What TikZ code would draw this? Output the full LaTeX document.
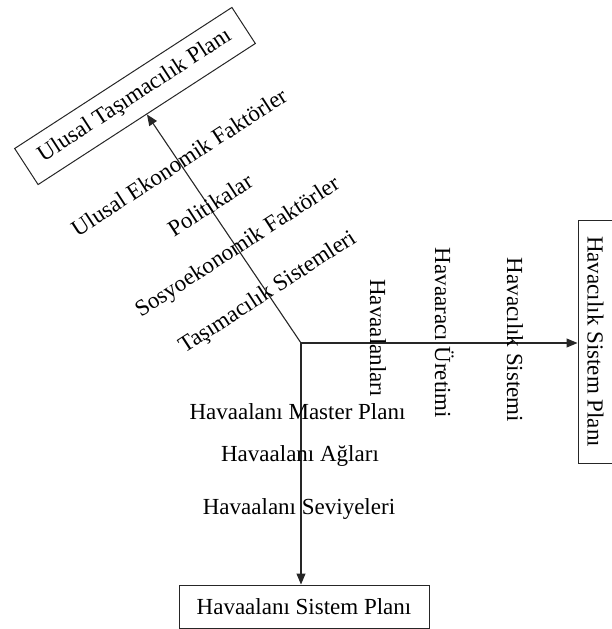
\documentclass[tikz,border=0pt]{standalone}
\usepackage{fontspec}
\setmainfont{Liberation Serif}
\usetikzlibrary{arrows.meta,calc}
\begin{document}
\begin{tikzpicture}[x=1pt,y=-1pt,
  lbl/.style={font=\fontsize{23}{27}\selectfont, inner sep=0pt},
  box/.style={draw=black!85, line width=1pt, font=\fontsize{23}{27}\selectfont, inner sep=0pt},
  arr/.style={draw=black!85, line width=1.1pt, -{Triangle[length=11pt,width=9pt]}}]
\useasboundingbox (0,0) rectangle (612,629);
\coordinate (c) at (301,343);
\node[box, rotate=33, minimum width=259pt, minimum height=43pt] (nat) at (135,96) {Ulusal Taşımacılık Planı};
\node[box, rotate=-90, minimum width=243pt, minimum height=35pt] (avi) at (595.5,341.5) {Havacılık Sistem Planı};
\node[box, minimum width=250pt, minimum height=43pt] (apt) at (304,606.5) {Havaalanı Sistem Planı};
\draw[arr] (c) -- (nat.south);
\draw[arr] (c) -- (c -| avi.south);
\draw[arr] (c) -- (c |- apt.north);
% diagonal labels
\node[lbl, rotate=33] (d1) at (179,162) {Ulusal Ekonomik Faktörler};
\node[lbl, rotate=33] (d2) at (210,205) {Politikalar};
\node[lbl, rotate=33] (d3) at (238,248) {Sosyoekonomik Faktörler};
\node[lbl, rotate=33] (d4) at (268,293) {Taşımacılık Sistemleri};
% vertical labels
\node[lbl, rotate=-90, anchor=base] (v1) at (370,338) {Havaalanları};
\node[lbl, rotate=-90, anchor=base] (v2) at (435,333) {Havaaracı Üretimi};
\node[lbl, rotate=-90, anchor=base] (v3) at (507,340) {Havacılık Sistemi};
% horizontal labels
\node[lbl, anchor=base] (h1) at (297.5,419) {Havaalanı Master Planı};
\node[lbl, anchor=base] (h2) at (300,461) {Havaalanı Ağları};
\node[lbl, anchor=base] (h3) at (299,514) {Havaalanı Seviyeleri};
\end{tikzpicture}
\end{document}
